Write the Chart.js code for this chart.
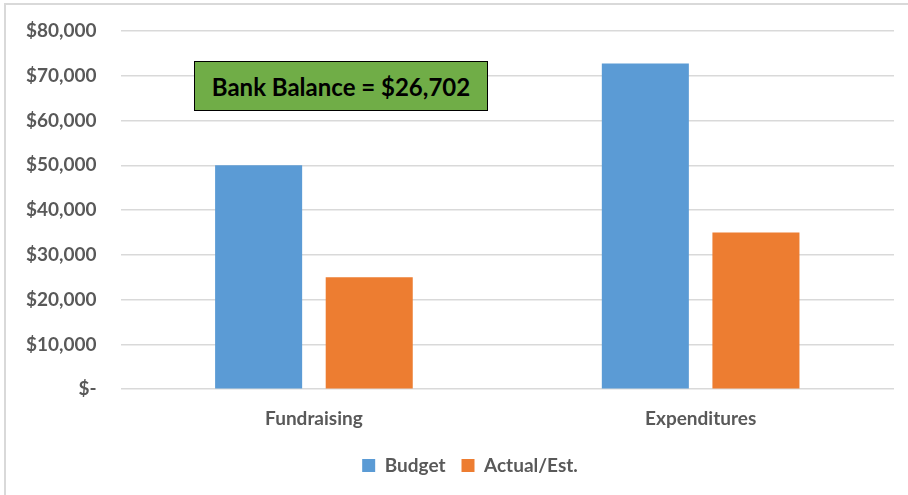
<!DOCTYPE html>
<html>
<head>
<meta charset="utf-8">
<script src="https://cdn.jsdelivr.net/npm/chart.js@4"></script>
<style>
  html, body { margin: 0; padding: 0; background: #fff; }
  .chart-container { position: relative; width: 908px; height: 495px; }
  .frame {
    position: absolute; left: 4px; top: 3px; right: 0; bottom: 0;
    border-left: 2px solid #d9d9d9; border-top: 2px solid #d9d9d9;
    pointer-events: none;
  }
  .bank-balance {
    position: absolute; left: 194px; top: 61px; width: 292px; height: 48px;
    background: #70ad47; border: 1px solid #000;
    font-family: Lato, "Open Sans", sans-serif; font-weight: bold; font-size: 24px;
    color: #000; display: flex; align-items: center; justify-content: center;
  }
</style>
</head>
<body>
<div class="chart-container">
  <canvas id="budgetChart" width="908" height="495"></canvas>
  <div class="frame"></div>
  <div class="bank-balance">Bank Balance = $26,702</div>
</div>
<script>
const categories = ["Fundraising", "Expenditures"];
const budget = [50000, 72750];
const actualEst = [25000, 35000];
const yTicks = [0, 10000, 20000, 30000, 40000, 50000, 60000, 70000, 80000];

const fontFamily = "Lato, 'Open Sans', sans-serif";
const tickFont = { family: fontFamily, size: 19, weight: "bold" };
const catFont = { family: fontFamily, size: 19, weight: "bold" };

// nudge the legend a bit to the right, like the original
const legendShift = {
    id: "legendShift",
    afterLayout(chart) {
        chart.legend.left += 22;
        chart.legend.right += 22;
    },
};

const ctx = document.getElementById("budgetChart").getContext("2d");

window.budgetChart = new Chart(ctx, {
    type: "bar",
    data: {
        labels: categories,
        datasets: [
            {
                label: "Budget",
                data: budget,
                backgroundColor: "#5b9bd5",
                categoryPercentage: 0.572,
                barPercentage: 0.787,
            },
            {
                label: "Actual/Est.",
                data: actualEst,
                backgroundColor: "#ed7d31",
                categoryPercentage: 0.572,
                barPercentage: 0.787,
            },
        ],
    },
    options: {
        responsive: false,
        animation: false,
        layout: {
            padding: { left: 2, right: 14, top: 31, bottom: 10 },
        },
        scales: {
            y: {
                min: 0,
                max: 80000,
                afterBuildTicks: (axis) => {
                    axis.ticks = yTicks.map((v) => ({ value: v }));
                },
                afterFit: (axis) => {
                    axis.paddingTop = 0;
                },
                grid: {
                    color: "#d9d9d9",
                    lineWidth: 1.5,
                    drawTicks: false,
                },
                border: { display: false },
                ticks: {
                    color: "#595959",
                    font: tickFont,
                    padding: 24,
                    callback: (v) => (v === 0 ? "$-" : "$" + v.toLocaleString("en-US")),
                },
            },
            x: {
                grid: { display: false },
                border: { display: false },
                ticks: {
                    color: "#595959",
                    font: catFont,
                    padding: 10,
                },
            },
        },
        plugins: {
            legend: {
                position: "bottom",
                labels: {
                    color: "#595959",
                    font: catFont,
                    boxWidth: 13,
                    boxHeight: 13,
                    padding: 16,
                },
            },
            tooltip: { enabled: false },
        },
    },
    plugins: [legendShift],
});
</script>
</body>
</html>
